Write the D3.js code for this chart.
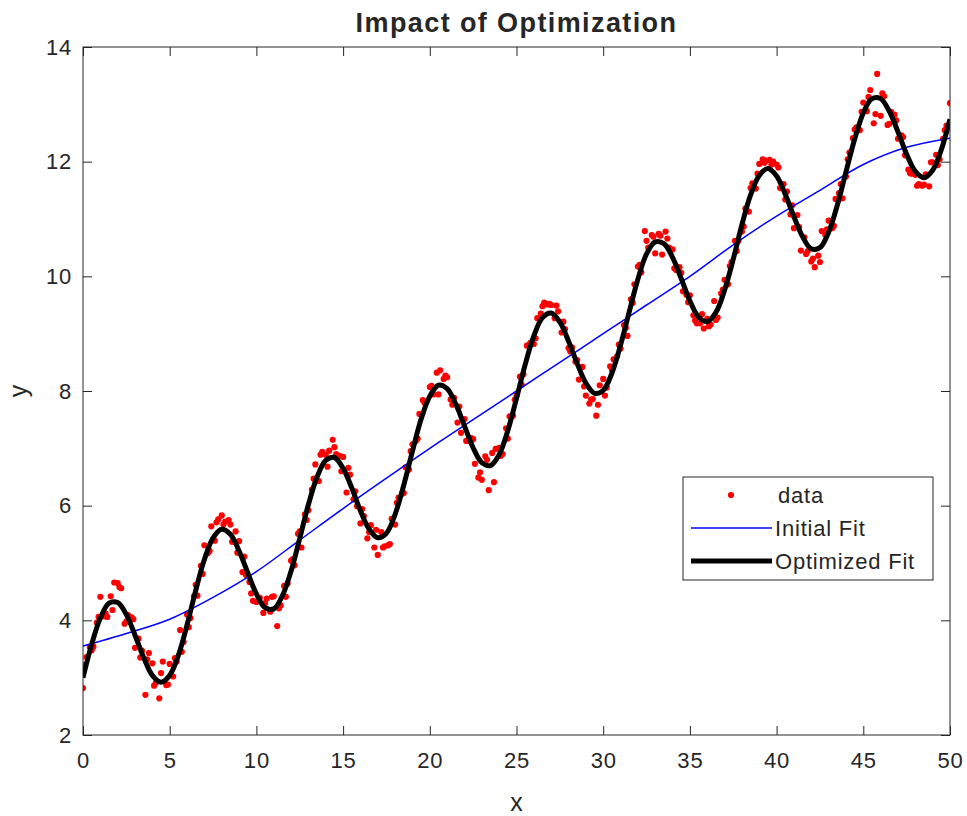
<!DOCTYPE html>
<html><head><meta charset="utf-8">
<script src="https://cdn.jsdelivr.net/npm/d3@7"></script>
<style>body{margin:0;background:#fff;} svg{display:block;} text{font-family:"Liberation Sans",Arial,sans-serif;fill:#262626;}</style>
</head><body><svg id="c" width="967" height="816"></svg>
<script>
// ---- data ----
const dataPts = [
[0,2.82],[0.2,3.36],[0.4,3.53],[0.6,3.54],[0.8,3.96],[1,4.41],[1.2,4.07],[1.4,4.06],[1.6,4.42],[1.8,4.66],
[2,4.65],[2.2,4.56],[2.4,3.94],[2.6,4.09],[2.8,4.05],[3,3.52],[3.2,3.68],[3.4,3.47],[3.6,2.70],[3.8,3.43],
[4,3.25],[4.2,2.91],[4.4,2.64],[4.6,3.28],[4.8,2.87],[5,3.24],[5.2,3.02],[5.4,3.28],[5.6,3.83],[5.8,3.62],
[6,4.10],[6.2,4.04],[6.4,4.42],[6.6,4.43],[6.8,4.95],[7,5.31],[7.2,5.17],[7.4,5.64],[7.6,5.39],[7.8,5.76],
[8,5.83],[8.2,5.72],[8.4,5.75],[8.6,5.37],[8.8,5.55],[9,5.38],[9.2,4.84],[9.4,4.79],[9.6,4.67],[9.8,4.34],
[10,4.32],[10.2,4.39],[10.4,4.13],[10.6,4.38],[10.8,4.15],[11,4.42],[11.2,3.90],[11.4,4.26],[11.6,4.60],[11.8,4.64],
[12,5.04],[12.2,4.96],[12.4,5.51],[12.6,5.27],[12.8,5.85],[13,5.92],[13.2,6.28],[13.4,6.72],[13.6,6.43],[13.8,6.94],
[14,6.89],[14.2,6.96],[14.4,7.15],[14.6,6.90],[14.8,6.87],[15,6.85],[15.2,6.23],[15.4,6.54],[15.6,6.11],[15.8,5.99],
[16,5.69],[16.2,5.82],[16.4,5.43],[16.6,5.66],[16.8,5.27],[17,5.14],[17.2,5.54],[17.4,5.29],[17.6,5.31],[17.8,5.77],
[18,5.67],[18.2,6.14],[18.4,6.21],[18.6,6.67],[18.8,6.63],[19,7.07],[19.2,7.13],[19.4,7.60],[19.6,7.84],[19.8,7.82],
[20,8.07],[20.2,7.94],[20.4,8.32],[20.6,8.36],[20.8,8.21],[21,8.24],[21.2,7.85],[21.4,7.88],[21.6,7.45],[21.8,7.27],
[22,7.51],[22.2,7.13],[22.4,7.18],[22.6,6.73],[22.8,6.49],[23,6.45],[23.2,6.86],[23.4,6.27],[23.6,6.92],[23.8,6.99],
[24,7.01],[24.2,6.90],[24.4,7.35],[24.6,7.56],[24.8,7.57],[25,7.92],[25.2,8.25],[25.4,8.29],[25.6,8.79],[25.8,8.84],
[26,8.82],[26.2,9.27],[26.4,9.35],[26.6,9.54],[26.8,9.51],[27,9.50],[27.2,9.27],[27.4,9.39],[27.6,9.02],[27.8,9.08],
[28,8.75],[28.2,8.76],[28.4,8.51],[28.6,8.20],[28.8,8.42],[29,7.92],[29.2,7.78],[29.4,7.86],[29.6,7.57],[29.8,8.10],
[30,8.21],[30.2,8.06],[30.4,8.43],[30.6,8.55],[30.8,8.60],[31,8.74],[31.2,9.15],[31.4,8.96],[31.6,9.60],[31.8,9.86],
[32,10.17],[32.2,10.07],[32.4,10.79],[32.6,10.50],[32.8,10.72],[33,10.40],[33.2,10.74],[33.4,10.38],[33.6,10.78],[33.8,10.50],
[34,10.47],[34.2,10.11],[34.4,10.16],[34.6,9.74],[34.8,9.68],[35,9.67],[35.2,9.32],[35.4,9.18],[35.6,9.18],[35.8,9.09],
[36,9.26],[36.2,9.16],[36.4,9.57],[36.6,9.28],[36.8,9.70],[37,9.94],[37.2,9.86],[37.4,10.25],[37.6,10.62],[37.8,10.62],
[38,10.78],[38.2,11.18],[38.4,11.13],[38.6,11.62],[38.8,11.53],[39,11.96],[39.2,12.04],[39.4,12.02],[39.6,12.03],[39.8,12.00],
[40,11.95],[40.2,11.54],[40.4,11.61],[40.6,11.48],[40.8,11.08],[41,10.84],[41.2,11.07],[41.4,10.45],[41.6,10.68],[41.8,10.44],
[42,10.26],[42.2,10.16],[42.4,10.36],[42.6,10.79],[42.8,10.73],[43,10.97],[43.2,10.84],[43.4,11.35],[43.6,11.45],[43.8,11.36],
[44,11.74],[44.2,12.16],[44.4,12.41],[44.6,12.60],[44.8,12.55],[45,13.03],[45.2,12.88],[45.4,13.25],[45.6,12.67],[45.8,13.53],
[46,12.80],[46.2,13.14],[46.4,12.64],[46.6,12.87],[46.8,12.82],[47,12.40],[47.2,12.46],[47.4,12.11],[47.6,11.86],[47.8,11.79],
[48,11.77],[48.2,11.61],[48.4,11.58],[48.6,11.78],[48.8,11.57],[49,11.99],[49.2,12.12],[49.4,12.04],[49.6,12.40],[49.8,12.63],
[50,13.02]
];
const dataPtsMore = [
[0.1,3.22],[0.5,3.48],[0.9,4.06],[1.3,4.12],[1.7,4.18],[2.1,4.58],[2.5,3.98],[2.9,4.02],[3.3,3.35],[3.7,3.32],
[4.1,2.86],[4.5,3.08],[4.9,2.88],[5.3,3.34],[5.7,3.45],[6.1,3.88],[6.5,4.62],[6.9,4.81],[7.3,5.21],[7.7,5.71],
[8.1,5.67],[8.5,5.67],[8.9,5.18],[9.3,5.11],[9.7,4.47],[10.1,4.34],[10.5,4.30],[10.9,4.41],[11.3,4.21],[11.7,4.41],
[12.1,5.07],[12.5,5.55],[12.9,5.75],[13.3,6.47],[13.7,6.89],[14.1,6.68],[14.5,7.02],[14.9,6.60],[15.3,6.66],[15.7,6.25],
[16.1,5.94],[16.5,5.54],[16.9,5.58],[17.3,5.27],[17.7,5.33],[18.1,6.05],[18.5,6.22],[18.9,6.95],[19.3,7.17],[19.7,7.79],
[20.1,8.09],[20.5,7.94],[20.9,8.27],[21.3,7.76],[21.7,7.73],[22.1,7.13],[22.5,7.16],[22.9,6.58],[23.3,6.80],[23.7,6.41],
[24.1,6.87],[24.5,7.17],[24.9,7.85],[25.3,8.11],[25.7,8.80],[26.1,8.92],[26.5,9.48],[26.9,9.52],[27.3,9.49],[27.7,9.21],
[28.1,8.69],[28.5,8.54],[28.9,8.08],[29.3,7.85],[29.7,7.76],[30.1,7.92],[30.5,8.37],[30.9,8.81],[31.3,9.10],[31.7,9.54],
[32.1,10.20],[32.5,10.62],[32.9,10.69],[33.3,10.71],[33.7,10.66],[34.1,10.14],[34.5,10.06],[34.9,9.55],[35.3,9.23],[35.7,9.34],
[36.1,9.13],[36.5,9.24],[36.9,9.77],[37.3,10.18],[37.7,10.44],[38.1,10.87],[38.5,11.54],[38.9,11.79],[39.3,11.98],[39.7,11.95],
[40.1,11.90],[40.5,11.34],[40.9,11.24],[41.3,10.86],[41.7,10.39],[42.1,10.31],[42.5,10.25],[42.9,10.82],[43.3,10.88],[43.7,11.61],
[44.1,12.04],[44.5,12.56],[44.9,12.87],[45.3,13.13],[45.7,12.83],[46.1,13.19],[46.5,12.66],[46.9,12.72],[47.3,12.43],[47.7,11.80],
[48.1,11.58],[48.5,11.60],[48.9,11.99],[49.3,11.94],[49.7,12.55]
];
const initialFit = [
[0,3.55],[2.5,3.77],[5,4.02],[7.5,4.4],[10,4.85],[12.5,5.4],[15,5.95],[17.5,6.48],[20,7.0],[22.5,7.5],
[25,8.0],[27.5,8.5],[30,9.0],[32.5,9.5],[35,10.0],[37.5,10.55],[40,11.05],[42.5,11.5],[45,11.95],[47.5,12.25],[50,12.41]
];
const optimizedFit = [
[0,3.00],[0.5,3.58],[1,4.04],[1.5,4.30],[2,4.31],[2.5,4.10],[3,3.74],[3.5,3.35],[4,3.04],[4.5,2.92],
[5,3.04],[5.5,3.39],[6,3.92],[6.5,4.52],[7,5.06],[7.5,5.44],[8,5.59],[8.5,5.50],[9,5.21],[9.5,4.83],
[10,4.46],[10.5,4.22],[11,4.20],[11.5,4.43],[12,4.86],[12.5,5.43],[13,6.02],[13.5,6.50],[14,6.79],[14.5,6.84],
[15,6.65],[15.5,6.31],[16,5.91],[16.5,5.59],[17,5.44],[17.5,5.52],[18,5.85],[18.5,6.36],[19,6.95],[19.5,7.51],
[20,7.91],[20.5,8.10],[21,8.04],[21.5,7.77],[22,7.39],[22.5,7.01],[23,6.75],[23.5,6.70],[24,6.89],[24.5,7.31],
[25,7.87],[25.5,8.46],[26,8.96],[26.5,9.28],[27,9.36],[27.5,9.20],[28,8.87],[28.5,8.48],[29,8.14],[29.5,7.96],
[30,8.01],[30.5,8.31],[31,8.80],[31.5,9.38],[32,9.95],[32.5,10.39],[33,10.60],[33.5,10.57],[34,10.33],[34.5,9.96],
[35,9.57],[35.5,9.29],[36,9.21],[36.5,9.37],[37,9.76],[37.5,10.30],[38,10.90],[38.5,11.42],[39,11.76],[39.5,11.88],
[40,11.75],[40.5,11.43],[41,11.04],[41.5,10.69],[42,10.48],[42.5,10.50],[43,10.77],[43.5,11.24],[44,11.82],[44.5,12.39],
[45,12.85],[45.5,13.10],[46,13.10],[46.5,12.88],[47,12.52],[47.5,12.13],[48,11.83],[48.5,11.72],[49,11.85],[49.5,12.21],
[50,12.74]
];
const xTicks = [0,5,10,15,20,25,30,35,40,45,50];
const yTicks = [2,4,6,8,10,12,14];
const legendLabels = ["data","Initial Fit","Optimized Fit"];
const titleText = "Impact of Optimization";

// ---- layout ----
const svg = d3.select("#c");
const L = 83, R = 950, T = 47, B = 735;
const x = d3.scaleLinear().domain([0,50]).range([L,R]);
const y = d3.scaleLinear().domain([2,14]).range([B,T]);
const axisCol = "#262626";
const allData = dataPts.concat(dataPtsMore);

const clip = svg.append("clipPath").attr("id","clp").append("rect").attr("x",L).attr("y",T).attr("width",R-L).attr("height",B-T);
const plot = svg.append("g").attr("clip-path","url(#clp)");

plot.selectAll("circle.d").data(allData).join("circle").attr("class","d")
  .attr("cx",d=>x(d[0])).attr("cy",d=>y(d[1])).attr("r",3.1).attr("fill","#ff0000");

const line = d3.line().x(d=>x(d[0])).y(d=>y(d[1])).curve(d3.curveCatmullRom);
plot.append("path").datum(initialFit).attr("d",line).attr("fill","none").attr("stroke","#0000ff").attr("stroke-width",1.5);
plot.append("path").datum(optimizedFit).attr("d",line).attr("fill","none").attr("stroke","#000").attr("stroke-width",5).attr("stroke-linejoin","round");

// axes
const fs = 22;
const ax = d3.axisBottom(x).tickValues(xTicks).tickSize(-9).tickPadding(17);
const gx = svg.append("g").attr("transform",`translate(0,${B})`).call(ax);
const ay = d3.axisLeft(y).tickValues(yTicks).tickSize(-9).tickPadding(11);
const gy = svg.append("g").attr("transform",`translate(${L},0)`).call(ay);
const axTop = d3.axisTop(x).tickValues(xTicks).tickSize(-9).tickFormat("");
const gt = svg.append("g").attr("transform",`translate(0,${T})`).call(axTop);
const ayR = d3.axisRight(y).tickValues(yTicks).tickSize(-9).tickFormat("");
const gr = svg.append("g").attr("transform",`translate(${R},0)`).call(ayR);
[gx,gy,gt,gr].forEach(g=>{
  g.select(".domain").remove();
  g.selectAll("line").attr("stroke",axisCol).attr("stroke-width",1);
  g.selectAll("text").attr("font-size",fs).attr("fill",axisCol).attr("letter-spacing","0.8px")
    .attr("font-family","Liberation Sans, Arial, sans-serif");
});
svg.append("rect").attr("x",L).attr("y",T).attr("width",R-L).attr("height",B-T).attr("fill","none").attr("stroke",axisCol).attr("stroke-width",1);

svg.append("text").attr("x",(L+R)/2).attr("y",811).attr("text-anchor","middle").attr("font-size",25).text("x");
svg.append("text").attr("transform",`translate(27,${(T+B)/2}) rotate(-90)`).attr("text-anchor","middle").attr("font-size",25).text("y");
svg.append("text").attr("x",(L+R)/2).attr("y",32).attr("text-anchor","middle").attr("font-size",27).attr("letter-spacing","1.4px")
  .attr("font-weight","bold").attr("fill","#000").text(titleText);

// legend
const lg = svg.append("g");
lg.append("rect").attr("x",683).attr("y",477).attr("width",250).attr("height",103).attr("fill","#fff").attr("stroke",axisCol).attr("stroke-width",1);
const rows = [495,528,561];
lg.append("circle").attr("cx",731).attr("cy",rows[0]).attr("r",3.1).attr("fill","#ff0000");
lg.append("line").attr("x1",691).attr("x2",772).attr("y1",rows[1]).attr("y2",rows[1]).attr("stroke","#0000ff").attr("stroke-width",1.5);
lg.append("line").attr("x1",691).attr("x2",772).attr("y1",rows[2]).attr("y2",rows[2]).attr("stroke","#000").attr("stroke-width",5);
legendLabels.forEach((t,i)=>{
  lg.append("text").attr("x",i===0?778:775).attr("y",rows[i]+8).attr("font-size",22).attr("letter-spacing","0.8px").attr("fill","#000").text(t);
});
</script></body></html>
